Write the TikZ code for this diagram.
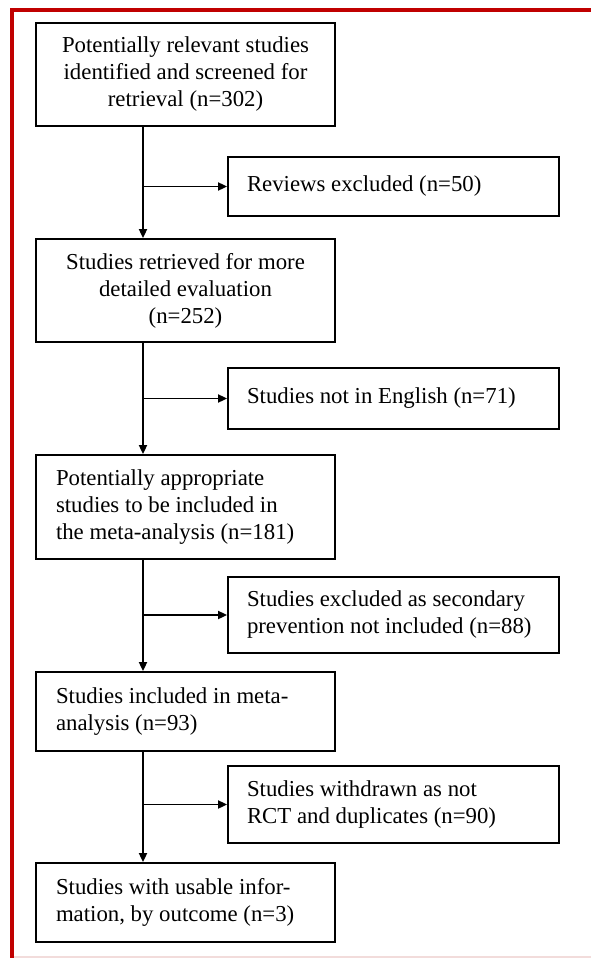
\documentclass[tikz,border=0pt]{standalone}
\usepackage{fontspec}
\setmainfont{Liberation Serif}
\usetikzlibrary{arrows.meta}
\definecolor{framered}{HTML}{C00000}
\definecolor{framepink}{HTML}{F2DCDB}

\begin{document}
\begin{tikzpicture}[x=1pt, y=-1pt,
  boxtext/.style={font=\fontsize{22.8}{27}\selectfont},
  mainbox/.style={rectangle, draw, line width=1.8pt, minimum width=299pt, inner xsep=20pt, boxtext},
  centerbox/.style={mainbox, align=center},
  leftbox/.style={mainbox, text width=259pt, align=flush left},
  sidebox/.style={rectangle, draw, line width=1.8pt, minimum width=331pt, text width=293pt, inner xsep=19pt, align=flush left, boxtext},
  flow/.style={-{Triangle[length=9pt, width=8pt]}, line width=1.8pt}]
  \useasboundingbox (0,0) rectangle (591,958);
  % Nodes
  \node (found) [centerbox, minimum height=103pt] at (185.5, 74.5) {Potentially relevant studies\\identified and screened for\\retrieval (n=302)};
  \node (reviews) [sidebox, minimum height=59pt] at (393.5, 186.5) {Reviews excluded (n=50)};
  \node (retrieved) [centerbox, minimum height=103pt] at (185.5, 290.5) {Studies retrieved for more\\detailed evaluation\\(n=252)};
  \node (english) [sidebox, minimum height=61pt] at (393.5, 398.5) {Studies not in English (n=71)};
  \node (appropriate) [leftbox, minimum height=104pt] at (185.5, 507) {Potentially appropriate\\studies to be included in\\the meta-analysis (n=181)};
  \node (secondary) [sidebox, minimum height=76pt] at (393.5, 615) {Studies excluded as secondary\\prevention not included (n=88)};
  \node (included) [leftbox, minimum height=79pt] at (185.5, 711.5) {Studies included in meta-\\analysis (n=93)};
  \node (withdrawn) [sidebox, minimum height=77pt] at (393.5, 804.5) {Studies withdrawn as not\\RCT and duplicates (n=90)};
  \node (usable) [leftbox, minimum height=79pt] at (185.5, 902.5) {Studies with usable infor-\\mation, by outcome (n=3)};
  \coordinate (spine) at (143, 0);
  % Arrows
  \draw[flow] (found.south -| spine) -- (retrieved.north -| spine);
  \draw[flow] (retrieved.south -| spine) -- (appropriate.north -| spine);
  \draw[flow] (appropriate.south -| spine) -- (included.north -| spine);
  \draw[flow] (included.south -| spine) -- (usable.north -| spine);
  \draw[flow] (spine |- reviews.west) -- (reviews.west);
  \draw[flow] (spine |- english.west) -- (english.west);
  \draw[flow] (spine |- secondary.west) -- (secondary.west);
  \draw[flow] (spine |- withdrawn.west) -- (withdrawn.west);
  % Frame
  \draw[framered, line width=4pt] (12, 958) -- (12, 10) -- (591, 10);
  \draw[framepink, line width=1.5pt] (14, 957) -- (591, 957);
\end{tikzpicture}
\end{document}
